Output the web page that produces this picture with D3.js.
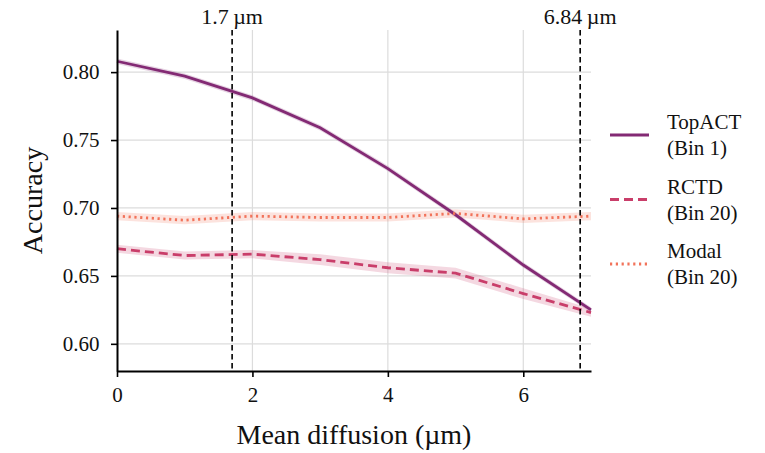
<!DOCTYPE html>
<html>
<head>
<meta charset="utf-8">
<script src="https://cdn.jsdelivr.net/npm/d3@7"></script>
<style>
  body { margin: 0; background: #fff; }
  svg text { font-family: "Liberation Serif", "DejaVu Serif", serif; fill: #111; }
</style>
</head>
<body>
<div id="chart"></div>
<script>
const WIDTH = 765;
const HEIGHT = 453;

// data
const diffusion = [0, 1, 2, 3, 4, 5, 6, 7];
const topactMean = [0.808, 0.797, 0.781, 0.759, 0.729, 0.695, 0.658, 0.625];
const rctdMean = [0.670, 0.665, 0.666, 0.662, 0.656, 0.652, 0.637, 0.623];
const modalMean = [0.694, 0.691, 0.694, 0.693, 0.693, 0.696, 0.692, 0.694];
const topactErr = [0.002, 0.002, 0.002, 0.002, 0.002, 0.002, 0.002, 0.002];
const rctdErr = [0.003, 0.003, 0.003, 0.004, 0.004, 0.004, 0.004, 0.003];
const modalErr = [0.003, 0.003, 0.003, 0.003, 0.003, 0.003, 0.003, 0.003];
const markers = [1.7, 6.84];
const markerLabels = ["1.7\u2009\u00b5m", "6.84\u2009\u00b5m"];
const xTicks = [0, 2, 4, 6];
const yTicks = [0.60, 0.65, 0.70, 0.75, 0.80];
const seriesNames = ["TopACT", "RCTD", "Modal"];
const seriesBins = ["(Bin 1)", "(Bin 20)", "(Bin 20)"];

const series = [
  { mean: topactMean, err: topactErr, color: "#832a74", dash: null },
  { mean: rctdMean, err: rctdErr, color: "#c93e6a", dash: "9,5" },
  { mean: modalMean, err: modalErr, color: "#f2735a", dash: "2.2,3.6" }
];

const M = { left: 117, right: 174, top: 30, bottom: 82 };

const x = d3.scaleLinear().domain([0, 7]).range([M.left, WIDTH - M.right]);
const y = d3.scaleLinear().domain([0.58, 0.831]).range([HEIGHT - M.bottom, M.top]);

const svg = d3.select("#chart").append("svg")
  .attr("width", WIDTH).attr("height", HEIGHT);

// grid
svg.append("g").selectAll("line").data(xTicks.filter(t => t > 0)).join("line")
  .attr("x1", d => x(d)).attr("x2", d => x(d))
  .attr("y1", y.range()[1]).attr("y2", y.range()[0])
  .attr("stroke", "#dcdcdc").attr("stroke-width", 1.2);
svg.append("g").selectAll("line").data(yTicks).join("line")
  .attr("x1", x.range()[0]).attr("x2", x.range()[1])
  .attr("y1", d => y(d)).attr("y2", d => y(d))
  .attr("stroke", "#dcdcdc").attr("stroke-width", 1.2);

// bands + lines
const area = d3.area()
  .x((d, i) => x(diffusion[i]))
  .y0(d => y(d[0] - d[1]))
  .y1(d => y(d[0] + d[1]));
const line = d3.line()
  .x((d, i) => x(diffusion[i]))
  .y(d => y(d));

series.forEach(s => {
  svg.append("path")
    .datum(s.mean.map((m, i) => [m, s.err[i]]))
    .attr("d", area)
    .attr("fill", s.color).attr("fill-opacity", 0.2);
});
series.forEach(s => {
  svg.append("path")
    .datum(s.mean)
    .attr("d", line)
    .attr("fill", "none")
    .attr("stroke", s.color)
    .attr("stroke-width", 2.8)
    .attr("stroke-dasharray", s.dash);
});

// marker lines
svg.append("g").selectAll("line").data(markers).join("line")
  .attr("x1", d => x(d)).attr("x2", d => x(d))
  .attr("y1", y.range()[1]).attr("y2", y.range()[0])
  .attr("stroke", "#000").attr("stroke-width", 1.6)
  .attr("stroke-dasharray", "5.5,3.5");
svg.append("g").selectAll("text").data(markers).join("text")
  .attr("x", d => x(d)).attr("y", 24)
  .attr("text-anchor", "middle")
  .attr("font-size", 22)
  .text((d, i) => markerLabels[i]);

// axes
const xAxis = svg.append("g")
  .attr("transform", `translate(0,${y.range()[0]})`)
  .call(d3.axisBottom(x).tickValues(xTicks).tickFormat(d3.format("d")).tickSize(6).tickSizeOuter(0));
const yAxis = svg.append("g")
  .attr("transform", `translate(${x.range()[0]},0)`)
  .call(d3.axisLeft(y).tickValues(yTicks).tickFormat(d3.format(".2f")).tickSize(6).tickSizeOuter(0));
[xAxis, yAxis].forEach(g => {
  g.select(".domain").attr("stroke", "#000").attr("stroke-width", 2);
  g.selectAll(".tick line").attr("stroke", "#000").attr("stroke-width", 1.6);
  g.selectAll(".tick text").attr("font-size", 21).attr("fill", "#111")
    .attr("font-family", "Liberation Serif, DejaVu Serif, serif");
});
xAxis.selectAll(".tick text").attr("dy", "1.05em");
yAxis.selectAll(".tick text").attr("dx", "-0.4em");

svg.append("text")
  .attr("x", 354).attr("y", 444)
  .attr("text-anchor", "middle").attr("font-size", 28)
  .text("Mean diffusion (\u00b5m)");
svg.append("text")
  .attr("transform", `translate(42,${(y.range()[0] + y.range()[1]) / 2}) rotate(-90)`)
  .attr("text-anchor", "middle").attr("font-size", 28)
  .text("Accuracy");

// legend
const legend = svg.append("g").selectAll("g").data(series).join("g")
  .attr("transform", (d, i) => `translate(610,${135 + i * 64.5})`);
legend.append("line")
  .attr("x1", 0).attr("x2", 39).attr("y1", 0).attr("y2", 0)
  .attr("stroke", d => d.color).attr("stroke-width", 2.8)
  .attr("stroke-dasharray", d => d.dash);
legend.append("text")
  .attr("x", 57).attr("y", -6).attr("font-size", 21)
  .text((d, i) => seriesNames[i]);
legend.append("text")
  .attr("x", 57).attr("y", 20).attr("font-size", 21)
  .text((d, i) => seriesBins[i]);
</script>
</body>
</html>
